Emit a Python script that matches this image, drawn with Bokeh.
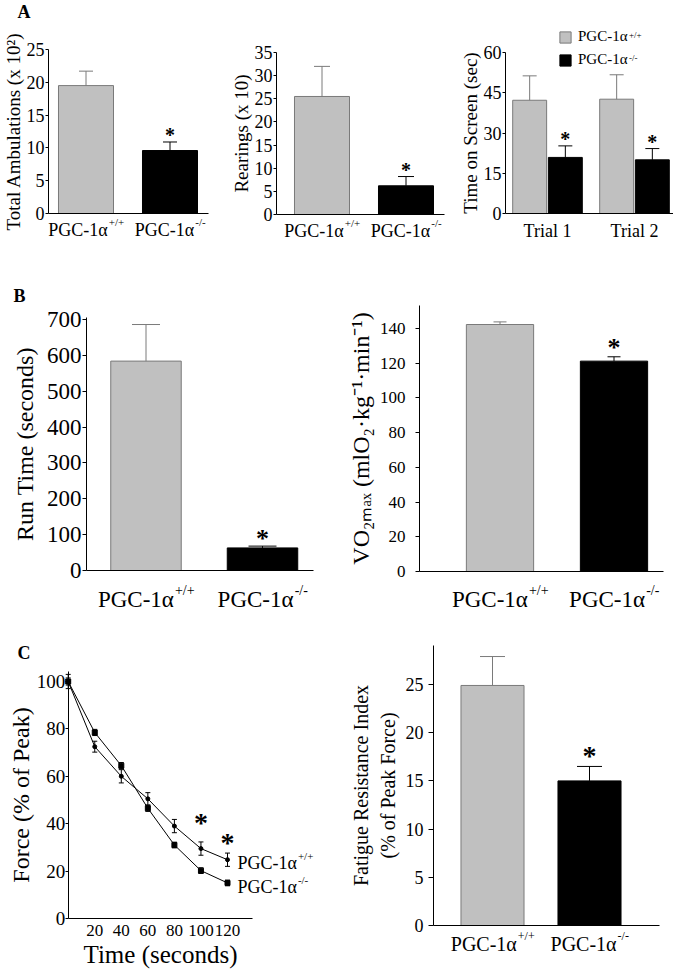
from bokeh.plotting import figure
from bokeh.models import Range1d, FixedTicker, Label, Legend, LegendItem
from bokeh.layouts import column, row
from bokeh.core.properties import value
from bokeh.embed import file_html
from bokeh.resources import INLINE

FONT = "Liberation Serif"
GRAY = "#c0c0c0"
GRAY_EDGE = "#7a7a7a"
BLACK = "#000000"

# ---------------- data ----------------
genotype_main = "PGC-1α"
genotype_sup = ["+/+", "-/-"]
trials = ["Trial 1", "Trial 2"]

ambul_mean = [19.5, 9.6]
ambul_sem = [2.2, 1.3]
rear_mean = [25.5, 6.2]
rear_sem = [6.5, 2.0]
screen_wt_mean = [42.2, 42.6]
screen_wt_sem = [9.1, 9.1]
screen_ko_mean = [20.9, 20.0]
screen_ko_sem = [4.3, 4.2]
run_mean = [584, 63]
run_sem = [102, 5]
vo2_mean = [142.3, 121.2]
vo2_sem = [1.5, 2.5]
time_s = [0, 20, 40, 60, 80, 100, 120]
force_wt_mean = [100, 72.5, 60, 50.5, 39, 29.5, 24.8]
force_wt_sem = [3, 2.3, 2.8, 2.6, 2.8, 2.8, 2.8]
force_ko_mean = [100, 78.5, 64.5, 46.5, 31, 20.2, 15]
force_ko_sem = [1.5, 1.3, 1.3, 1.3, 1.2, 1.2, 1.2]
force_sig_time = [100, 120]
fri_mean = [24.9, 15.0]
fri_sem = [3.0, 1.5]

CH_W = {'P': .556, 'G': .722, 'C': .667, '-': .333, '1': .5, 'α': .55, '+': .564, '/': .278}
ORIGIN = {}


def tw(s):
    return sum(CH_W.get(c, .5) for c in s)


def lin(anchors, px):
    (p1, v1), (p2, v2) = anchors
    return v1 + (px - p1) * (v2 - v1) / (p2 - p1)


def make_fig(canvas, xa, ya, box_x, box_top):
    """canvas=(x0,y0,w,h) page px; xa/ya = pixel->data anchors; axes drawn inside the frame."""
    x0, y0, w, h = canvas
    p = figure(width=w, height=h, title=None,
               x_range=Range1d(lin(xa, x0), lin(xa, x0 + w)),
               y_range=Range1d(lin(ya, y0 + h), lin(ya, y0)),
               tools="", toolbar_location=None, output_backend="svg",
               min_border_left=0, min_border_right=0, min_border_top=0, min_border_bottom=0)
    p.outline_line_color = None
    p.xgrid.grid_line_color = None
    p.ygrid.grid_line_color = None
    p.background_fill_color = "white"
    p.border_fill_color = "white"
    xlo, xhi = lin(xa, box_x[0]), lin(xa, box_x[1])
    ytop = lin(ya, box_top)
    xax, yax = p.xaxis[0], p.yaxis[0]
    for ax in (xax, yax):
        ax.axis_line_color = "black"
        ax.major_tick_line_color = "black"
        ax.minor_tick_line_color = None
        ax.major_label_text_font = FONT
        ax.axis_label_text_font = FONT
        ax.axis_label_text_font_style = "normal"
        ax.major_label_text_color = "black"
        ax.axis_label_text_color = "black"
    xax.fixed_location = 0
    xax.bounds = (xlo, xhi)
    xax.ticker = FixedTicker(ticks=[])
    xax.major_tick_line_color = None
    yax.fixed_location = xlo
    yax.bounds = (0, ytop)
    ORIGIN[id(p)] = (x0, y0)
    return p


def style_y(p, ticks, label, tick_fs, lab_fs, tick_out=3, lab_stand=1, ax_stand=0):
    ya = p.yaxis[0]
    ya.ticker = FixedTicker(ticks=ticks)
    ya.axis_label = label
    ya.major_label_text_font_size = f"{tick_fs}px"
    ya.axis_label_text_font_size = f"{lab_fs}px"
    ya.major_tick_out = tick_out
    ya.major_tick_in = 0
    ya.major_label_standoff = lab_stand
    ya.axis_label_standoff = ax_stand


def sup_label(p, x, y, main, sup, fs, dx, dy, align="center"):
    fs_s = round(fs * 0.62)
    wm = tw(main) * fs
    ws = tw(sup) * fs_s
    left = dx - (wm + ws) / 2 if align == "center" else dx
    p.add_layout(Label(x=x, y=y, x_offset=left, y_offset=dy, text=main, text_align="left",
                       text_baseline="alphabetic", text_font=FONT, text_font_size=f"{fs}px",
                       text_color="black"))
    p.add_layout(Label(x=x, y=y, x_offset=left + wm + 0.5, y_offset=dy + 0.40 * fs, text=sup,
                       text_align="left", text_baseline="alphabetic", text_font=FONT,
                       text_font_size=f"{fs_s}px", text_color="black"))


def corner_label(p, text, px, py, fs, bold=False):
    """text placed at page pixel (px = left, py = baseline)."""
    ox, oy = ORIGIN[id(p)]
    p.add_layout(Label(x=p.x_range.start, y=p.y_range.end, x_offset=px - ox,
                       y_offset=-(py - oy), text=text, text_align="left",
                       text_baseline="alphabetic", text_font=FONT,
                       text_font_style="bold" if bold else "normal",
                       text_font_size=f"{fs}px", text_color="black"))


def two_bar(p, mean, sem, width, cap, star_fs, star_dy, lab_fs, lab_dy):
    pos = [1, 2]
    fills = [GRAY, BLACK]
    edges = [GRAY_EDGE, BLACK]
    p.vbar(x=pos, top=mean, width=width, bottom=0, fill_color=fills, line_color=edges, line_width=1)
    tops = [m + s for m, s in zip(mean, sem)]
    p.segment(x0=pos, y0=mean, x1=pos, y1=tops, line_color=edges, line_width=1)
    p.scatter(x=pos, y=tops, marker="dash", size=cap, line_color=edges, line_width=1)
    p.text(x=[pos[1]], y=[tops[1]], text=["*"], text_font=value(FONT), text_font_style="bold",
           text_font_size=value(f"{star_fs}px"), text_align="center", text_baseline="alphabetic",
           text_color="black", y_offset=star_dy)
    for i, s in enumerate(genotype_sup):
        sup_label(p, pos[i], 0, genotype_main, s, lab_fs, 0, lab_dy)


# ---------------- Row A ----------------
a1 = make_fig((0, 0, 230, 252), ((85.5, 1), (169.5, 2)), ((213, 0), (49, 25)), (48, 208), 49)
style_y(a1, [0, 5, 10, 15, 20, 25], "Total Ambulations (x 10²)", 18, 19)
two_bar(a1, ambul_mean, ambul_sem, 0.655, 14, 20, -7, 18, -16)
corner_label(a1, "A", 17, 11, 18, bold=True)

a2 = make_fig((230, 0, 226, 252), ((321.5, 1), (405.5, 2)), ((214, 0), (52, 35)), (276, 444), 52)
style_y(a2, [0, 5, 10, 15, 20, 25, 30, 35], "Rearings (x 10)", 18, 19)
two_bar(a2, rear_mean, rear_sem, 0.655, 16, 20, -7, 18, -16)

a3 = make_fig((456, 0, 217, 252), ((547, 1), (634, 2)), ((213, 0), (52, 60)), (505, 673), 52)
style_y(a3, [0, 15, 30, 45, 60], "Time on Screen (sec)", 18, 19)
xa3 = a3.xaxis[0]
xa3.ticker = FixedTicker(ticks=[1, 2])
xa3.major_label_overrides = {1: trials[0], 2: trials[1]}
xa3.major_label_text_font_size = "18px"
xa3.major_label_standoff = 1
off = 0.205
bw = 0.39
xw = [1 - off, 2 - off]
xk = [1 + off, 2 + off]
r_wt = a3.vbar(x=xw, top=screen_wt_mean, width=bw, fill_color=GRAY, line_color=GRAY_EDGE)
r_ko = a3.vbar(x=xk, top=screen_ko_mean, width=bw, fill_color=BLACK, line_color=BLACK)
wt_tops = [m + s for m, s in zip(screen_wt_mean, screen_wt_sem)]
ko_tops = [m + s for m, s in zip(screen_ko_mean, screen_ko_sem)]
a3.segment(x0=xw, y0=screen_wt_mean, x1=xw, y1=wt_tops, line_color=GRAY_EDGE)
a3.scatter(x=xw, y=wt_tops, marker="dash", size=14, line_color=GRAY_EDGE)
a3.segment(x0=xk, y0=screen_ko_mean, x1=xk, y1=ko_tops, line_color=BLACK)
a3.scatter(x=xk, y=ko_tops, marker="dash", size=14, line_color=BLACK)
a3.text(x=xk, y=ko_tops, text=["*", "*"], text_font=value(FONT), text_font_style="bold",
        text_font_size=value("20px"), text_align="center", text_baseline="alphabetic",
        text_color="black", y_offset=-7)
legend = Legend(items=[LegendItem(label=genotype_main, renderers=[r_wt]),
                       LegendItem(label=genotype_main, renderers=[r_ko])],
                location=(102, 184), orientation="vertical", glyph_width=14, glyph_height=14,
                label_standoff=6, spacing=6, padding=0, margin=0, border_line_color=None,
                background_fill_alpha=0, label_text_font=FONT, label_text_font_size="15px",
                label_height=17, label_text_color="black")
a3.add_layout(legend)
for i, s in enumerate(genotype_sup):
    corner_label(a3, s, 578 + tw(genotype_main) * 15 + 0.5, [34, 57][i], 9)

# ---------------- Row B ----------------
b1 = make_fig((0, 252, 340, 360), ((145.5, 1), (262, 2)), ((570, 0), (319, 700)), (86, 313), 317)
style_y(b1, [0, 100, 200, 300, 400, 500, 600, 700], "Run Time (seconds)", 23, 24,
        tick_out=4, lab_stand=1, ax_stand=6)
two_bar(b1, run_mean, run_sem, 0.605, 28, 26, -8, 23, -29)
corner_label(b1, "B", 13, 295, 18, bold=True)

b2 = make_fig((340, 252, 333, 360), ((499.5, 1), (613.5, 2)), ((571, 0), (328, 140)), (419, 663), 305)
style_y(b2, [0, 20, 40, 60, 80, 100, 120, 140], "VO₂ₘₐₓ (mlO₂·kg⁻¹·min⁻¹)", 17, 24,
        tick_out=4, lab_stand=10, ax_stand=3)
two_bar(b2, vo2_mean, vo2_sem, 0.59, 13, 26, -9, 23, -28)

# ---------------- Row C ----------------
c1 = make_fig((0, 612, 340, 358), ((67.7, 0), (227, 120)), ((918, 0), (681, 100)), (67.7, 252), 671)
style_y(c1, [0, 20, 40, 60, 80, 100], "Force (% of Peak)", 19, 24, tick_out=3, lab_stand=0, ax_stand=0)
xc1 = c1.xaxis[0]
xc1.ticker = FixedTicker(ticks=[20, 40, 60, 80, 100, 120])
xc1.axis_label = "Time (seconds)"
xc1.axis_label_text_font_size = "25px"
xc1.major_label_text_font_size = "17px"
xc1.major_label_standoff = 6
xc1.axis_label_standoff = 2
xc1.major_tick_out = 0
wt_top = [m + s for m, s in zip(force_wt_mean, force_wt_sem)]
wt_bot = [m - s for m, s in zip(force_wt_mean, force_wt_sem)]
ko_top = [m + s for m, s in zip(force_ko_mean, force_ko_sem)]
ko_bot = [m - s for m, s in zip(force_ko_mean, force_ko_sem)]
c1.line(time_s, force_wt_mean, line_color="black", line_width=1)
c1.line(time_s, force_ko_mean, line_color="black", line_width=1)
c1.segment(x0=time_s, y0=wt_bot, x1=time_s, y1=wt_top, line_color="black")
c1.segment(x0=time_s, y0=ko_bot, x1=time_s, y1=ko_top, line_color="black")
for arr in (wt_top, wt_bot, ko_top, ko_bot):
    c1.scatter(x=time_s, y=arr, marker="dash", size=5, line_color="black")
c1.scatter(time_s, force_wt_mean, marker="circle", size=4, fill_color="black", line_color="black")
c1.scatter(time_s, force_ko_mean, marker="square", size=5, fill_color="black", line_color="black")
sig_idx = [time_s.index(t) for t in force_sig_time]
c1.text(x=force_sig_time, y=[wt_top[i] for i in sig_idx], text=["*", "*"], text_font=value(FONT),
        text_font_style="bold", text_font_size=value("28px"), text_align="center",
        text_baseline="alphabetic", text_color="black", y_offset=[-19, -11])
sup_label(c1, time_s[-1], force_wt_mean[-1], genotype_main, genotype_sup[0], 18, 10, -3, align="left")
sup_label(c1, time_s[-1], force_ko_mean[-1], genotype_main, genotype_sup[1], 18, 10, -4, align="left")
corner_label(c1, "C", 17, 652, 18, bold=True)

c2 = make_fig((340, 612, 333, 358), ((492, 1), (589, 2)), ((925, 0), (684, 25)), (433, 659), 645)
style_y(c2, [0, 5, 10, 15, 20, 25], "Fatigue Resistance Index\n(% of Peak Force)", 18, 20,
        tick_out=5, lab_stand=5, ax_stand=4)
two_bar(c2, fri_mean, fri_sem, 0.65, 25, 28, -11, 20, -18)

layout = column(row(a1, a2, a3), row(b1, b2), row(c1, c2))

with open("out.html", "w") as f:
    f.write(file_html(layout, INLINE, "PGC-1alpha figure"))
